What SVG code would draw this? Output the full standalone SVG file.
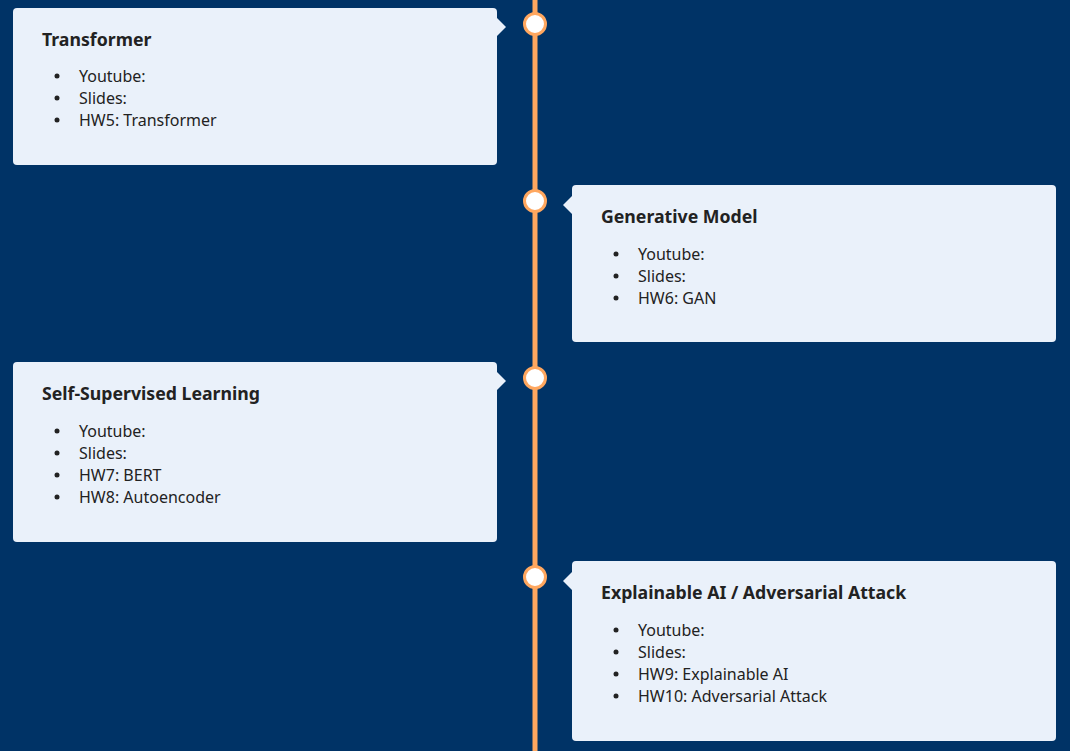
<svg xmlns="http://www.w3.org/2000/svg" width="1070" height="751" viewBox="0 0 1070 751">
<style>
.card{fill:#EAF1FA}
.title{font-family:"Noto Sans","Open Sans",sans-serif;font-weight:bold;font-size:17.7px;fill:#222}
.item{font-family:"Noto Sans","Open Sans",sans-serif;font-size:16px;fill:#222}
.dot{fill:#222}
.node{fill:#fff;stroke:#FFA75F;stroke-width:3}
</style>
<rect width="1070" height="751" fill="#003366"/>
<g id="connectors">
<rect x="532.5" y="0" width="5" height="751" fill="#FFA75F"/>
</g>
<g id="card1">
<rect class="card" x="13" y="8" width="484" height="157" rx="4"/>
<polygon class="card" points="496,17 506,27 496,37"/>
<circle class="node" cx="535" cy="24" r="10.5"/>
<text class="title" x="42" y="45.5">Transformer</text>
<circle class="dot" cx="57" cy="76" r="2.5"/><text class="item" x="79" y="81.5">Youtube:</text>
<circle class="dot" cx="57" cy="98" r="2.5"/><text class="item" x="79" y="103.5">Slides:</text>
<circle class="dot" cx="57" cy="120" r="2.5"/><text class="item" x="79" y="125.5">HW5: Transformer</text>
</g>
<g id="card2">
<rect class="card" x="572" y="185" width="484" height="157" rx="4"/>
<polygon class="card" points="573,195 563,205 573,215"/>
<circle class="node" cx="535" cy="201" r="10.5"/>
<text class="title" x="601" y="222.5">Generative Model</text>
<circle class="dot" cx="616" cy="254" r="2.5"/><text class="item" x="638" y="259.5">Youtube:</text>
<circle class="dot" cx="616" cy="276" r="2.5"/><text class="item" x="638" y="281.5">Slides:</text>
<circle class="dot" cx="616" cy="298" r="2.5"/><text class="item" x="638" y="303.5">HW6: GAN</text>
</g>
<g id="card3">
<rect class="card" x="13" y="362" width="484" height="180" rx="4"/>
<polygon class="card" points="496,371 506,381 496,391"/>
<circle class="node" cx="535" cy="378" r="10.5"/>
<text class="title" x="42" y="399.5">Self-Supervised Learning</text>
<circle class="dot" cx="57" cy="431" r="2.5"/><text class="item" x="79" y="436.5">Youtube:</text>
<circle class="dot" cx="57" cy="453" r="2.5"/><text class="item" x="79" y="458.5">Slides:</text>
<circle class="dot" cx="57" cy="475" r="2.5"/><text class="item" x="79" y="480.5">HW7: BERT</text>
<circle class="dot" cx="57" cy="497" r="2.5"/><text class="item" x="79" y="502.5">HW8: Autoencoder</text>
</g>
<g id="card4">
<rect class="card" x="572" y="561" width="484" height="180" rx="4"/>
<polygon class="card" points="573,571 563,581 573,591"/>
<circle class="node" cx="535" cy="577" r="10.5"/>
<text class="title" x="601" y="598.5">Explainable AI / Adversarial Attack</text>
<circle class="dot" cx="616" cy="630" r="2.5"/><text class="item" x="638" y="635.5">Youtube:</text>
<circle class="dot" cx="616" cy="652" r="2.5"/><text class="item" x="638" y="657.5">Slides:</text>
<circle class="dot" cx="616" cy="674" r="2.5"/><text class="item" x="638" y="679.5">HW9: Explainable AI</text>
<circle class="dot" cx="616" cy="696" r="2.5"/><text class="item" x="638" y="701.5">HW10: Adversarial Attack</text>
</g>
</svg>
